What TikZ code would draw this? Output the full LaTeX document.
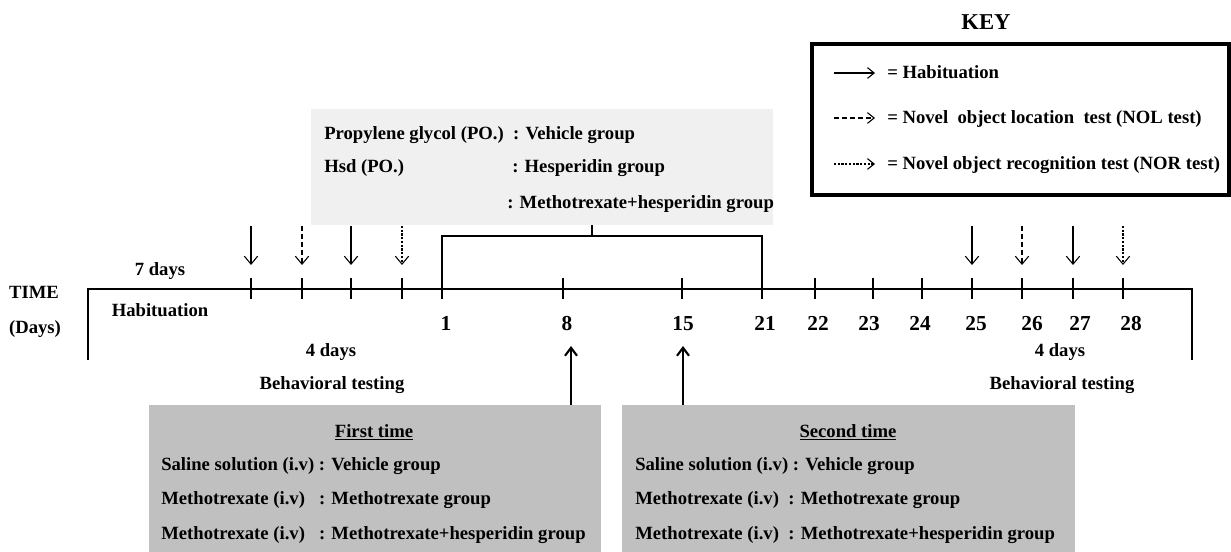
\documentclass[tikz,border=0pt]{standalone}
\usepackage{fontspec}
\setmainfont{Liberation Serif}
\usetikzlibrary{arrows.meta}
\definecolor{topgray}{HTML}{F0F0F0}
\definecolor{botgray}{HTML}{C0C0C0}
\tikzset{
  txt/.style={font=\bfseries\fontsize{14}{16}\selectfont, inner sep=0pt, text=black, text height=10pt, text depth=1pt},
  lab/.style={txt, anchor=west},
  num/.style={txt, font=\bfseries\fontsize{16}{18}\selectfont, text height=11pt, text depth=0pt},
  tick/.style={line width=0.8pt},
  hab/.style={line width=0.8pt, -{Straight Barb[length=6pt,width=10pt]}},
  nol/.style={hab, dash pattern=on 3.5pt off 2.5pt},
  nor/.style={hab, dash pattern=on 1.6pt off 1.2pt},
  uparr/.style={line width=1.6pt, -{Straight Barb[length=6pt,width=9pt,line width=1.6pt]}},
}
\begin{document}
\begin{tikzpicture}[x=0.75pt,y=-0.75pt]
\useasboundingbox (0,0) rectangle (1231,552);
% gray boxes
\fill[topgray] (311,109) rectangle (773,225);
\coordinate (topbot) at (592,225);
\fill[botgray] (149,405) rectangle (601,552);
\fill[botgray] (622,405) rectangle (1075,552);
\coordinate (b1top) at (571,405);
\coordinate (b2top) at (683,405);
% top box text
\node[lab] (p1) at (324,134) {Propylene glycol (PO.)\ \ : Vehicle group};
\node[lab] (p2) at (324,167) {Hsd (PO.)};
\node[lab] (p3) at (512,167) {: Hesperidin group};
\node[lab] (p4) at (507,203) {: Methotrexate+hesperidin group};
% bottom box text
\node[txt] (f0) at (374,431) {\underline{First time}};
\node[lab] (f1) at (161,464) {Saline solution (i.v) : Vehicle group};
\node[lab] (f2) at (161,498) {Methotrexate (i.v)\ \ \ : Methotrexate group};
\node[lab] (f3) at (161,533) {Methotrexate (i.v)\ \ \ : Methotrexate+hesperidin group};
\node[txt] (s0) at (848,431) {\underline{Second time}};
\node[lab] (s1) at (635,464) {Saline solution (i.v) : Vehicle group};
\node[lab] (s2) at (635,498) {Methotrexate (i.v)\ \ : Methotrexate group};
\node[lab] (s3) at (635,533) {Methotrexate (i.v)\ \ : Methotrexate+hesperidin group};
% timeline
\coordinate (tl0) at (88,289);
\coordinate (tl1) at (1192,289);
\draw[line width=0.8pt] (88,360) -- (tl0) -- (tl1) -- (1192,360);
\foreach \x/\n in {251/a,302/b,351/c,402/d,442/e,563/f,682/g,762/h,815/i,873/j,922/k,972/l,1022/m,1073/n,1123/o}{
  \coordinate (t\n) at (\x,289);
  \draw[tick] (\x,278) -- (\x,299);
}
% bracket
\draw[line width=0.8pt] (te) -- (442,236) -- (762,236) -- (th);
\draw[line width=0.8pt] (592,236) -- (topbot);
% day numbers
\foreach \x/\t in {446/1,567/8,683/15,765/21,818/22,869/23,920/24,976/25,1032/26,1080/27,1131/28}{
  \node[num] (d\t) at (\x,323) {\t};
}
% behavioural arrows
\foreach \x/\s in {251/hab,302/nol,351/hab,402/nor,972/hab,1022/nol,1073/hab,1123/nor}{
  \coordinate (as\x) at (\x,226);
  \coordinate (ae\x) at (\x,265);
  \draw[\s] (as\x) -- (ae\x);
}
% up arrows
\coordinate (u1) at (571,346);
\coordinate (u2) at (683,346);
\draw[uparr] (b1top) -- (u1);
\draw[uparr] (b2top) -- (u2);
% labels
\node[txt] (sevendays) at (160,270) {7 days};
\node[txt] (habit) at (160,310) {Habituation};
\node[txt] (time) at (34,293) {TIME};
\node[txt] (days) at (35,327) {(Days)};
\node[txt] (four1) at (331,350) {4 days};
\node[txt] (beh1) at (332,383) {Behavioral testing};
\node[txt] (four2) at (1060,350) {4 days};
\node[txt] (beh2) at (1062,383) {Behavioral testing};
% key
\node[txt, font=\bfseries\fontsize{17}{19}\selectfont, text height=12pt] (key) at (986,22) {KEY};
\draw[line width=2.4pt] (812,44) rectangle (1229,195);
\coordinate (k1a) at (834,73); \coordinate (k1b) at (875,73);
\coordinate (k2a) at (834,118); \coordinate (k2b) at (875,118);
\coordinate (k3a) at (834,164); \coordinate (k3b) at (875,164);
\draw[hab, -{Straight Barb[length=5pt,width=8pt]}] (k1a) -- (k1b);
\draw[nol, -{Straight Barb[length=5pt,width=8pt]}] (k2a) -- (k2b);
\draw[nor, -{Straight Barb[length=5pt,width=8pt]}] (k3a) -- (k3b);
\node[lab] (kt1) at (887,73) {= Habituation};
\node[lab] (kt2) at (887,118) {= Novel\ \ object location\ \ test (NOL test)};
\node[lab] (kt3) at (887,164) {= Novel object recognition test (NOR test)};
\end{tikzpicture}
\end{document}
